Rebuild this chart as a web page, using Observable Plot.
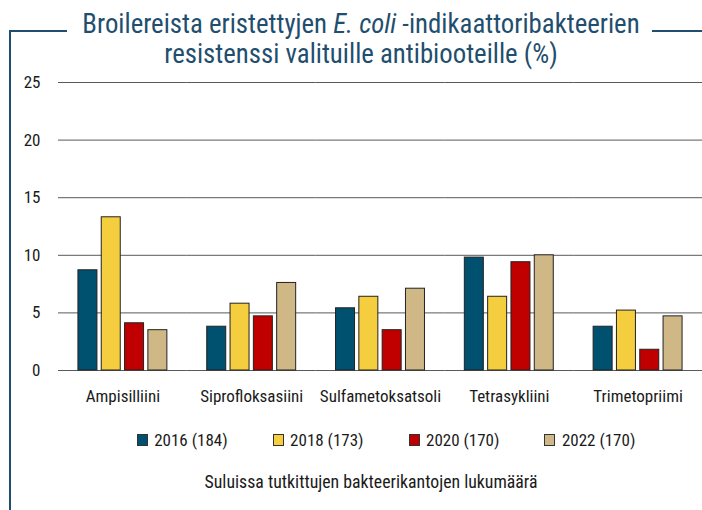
<!DOCTYPE html>
<html>
<head>
<meta charset="utf-8">
<script src="https://cdn.jsdelivr.net/npm/d3@7"></script>
<script src="https://cdn.jsdelivr.net/npm/@observablehq/plot@0.6"></script>
<style>
  html, body { margin: 0; padding: 0; background: #fff; }
  #wrap { position: relative; width: 702px; height: 510px; overflow: hidden;
    font-family: "Roboto Condensed", "Liberation Sans Narrow", "DejaVu Sans Condensed", Roboto, sans-serif; color: #1a1a1a; }
  .frame { position: absolute; background: #1f4e6e; }
  #title { position: absolute; left: 0; width: 722px; top: 8.5px; text-align: center;
    color: #1f4e6e; font-size: 26.8px; line-height: 30px; }
  #chart { position: absolute; left: 0; top: 70px; }
  #legend { position: absolute; left: 64px; width: 644px; top: 430px; display: flex; justify-content: center; gap: 45px; font-size: 17px; line-height: 20px; }
  #legend .item { display: flex; align-items: center; gap: 6.5px; }
  #legend .sw { width: 9px; height: 10px; border: 1px solid #333; }
  #caption { position: absolute; left: 40px; width: 662px; top: 472px; text-align: center; font-size: 17.8px; line-height: 20px; }
</style>
</head>
<body>
<div id="wrap">
  <div class="frame" style="left:8.5px; top:29.5px; width:58.5px; height:2.5px;"></div>
  <div class="frame" style="left:651.5px; top:29.5px; width:51px; height:2.5px;"></div>
  <div class="frame" style="left:8.5px; top:29.5px; width:2.5px; height:481px;"></div>
  <div id="title">Broilereista eristettyjen <i>E. coli</i> -indikaattoribakteerien<br>resistenssi valituille antibiooteille (%)</div>
  <div id="chart"></div>
  <div id="legend"></div>
  <div id="caption">Suluissa tutkittujen bakteerikantojen lukumäärä</div>
</div>
<script>
const antibiotics = ["Ampisilliini", "Siprofloksasiini", "Sulfametoksatsoli", "Tetrasykliini", "Trimetopriimi"];
const years = ["2016 (184)", "2018 (173)", "2020 (170)", "2022 (170)"];
const colors = ["#00506f", "#f5ce3f", "#c00000", "#cfb886"];
const v2016 = [8.7, 3.8, 5.4, 9.8, 3.8];
const v2018 = [13.3, 5.8, 6.4, 6.4, 5.2];
const v2020 = [4.1, 4.7, 3.5, 9.4, 1.8];
const v2022 = [3.5, 7.6, 7.1, 10.0, 4.7];
const yTicks = [0, 5, 10, 15, 20, 25];

const series = [v2016, v2018, v2020, v2022];
const data = [];
antibiotics.forEach((a, i) => years.forEach((y, j) => data.push({antibiotic: a, year: y, value: series[j][i]})));

const width = 702, marginLeft = 58, marginRight = 0;
const fxPad = 0.276;
const step = (width - marginLeft - marginRight) / antibiotics.length;
const ext = -fxPad * step / 2;
const font = "'Roboto Condensed', 'Liberation Sans Narrow', 'DejaVu Sans Condensed', Roboto, sans-serif";

const chart = Plot.plot({
  width, height: 340,
  marginLeft, marginRight, marginTop: 12, marginBottom: 40,
  style: {fontFamily: font, fontSize: "17px", color: "#1a1a1a"},
  fx: {domain: antibiotics, paddingInner: fxPad, paddingOuter: fxPad / 2, round: false, label: null},
  x: {domain: years, paddingInner: 0.185, paddingOuter: 0.0925, round: false, axis: null},
  y: {domain: [0, 25], label: null},
  color: {domain: years, range: colors},
  marks: [
    Plot.ruleY(yTicks, {stroke: "#595959", strokeWidth: 1, insetLeft: ext, insetRight: ext}),
    Plot.barY(data, {fx: "antibiotic", x: "year", y: "value", fill: "year", stroke: "#222", strokeWidth: 1}),
    Plot.axisY({ticks: yTicks, tickSize: 0, tickPadding: 18 - ext, label: null, fontSize: 17}),
    Plot.axisFx({anchor: "bottom", tickSize: 0, tickPadding: 19, label: null, fontSize: 17})
  ]
});
document.getElementById("chart").appendChild(chart);

const legend = document.getElementById("legend");
years.forEach((y, j) => {
  const item = document.createElement("div");
  item.className = "item";
  item.innerHTML = `<span class="sw" style="background:${colors[j]}"></span><span>${y}</span>`;
  legend.appendChild(item);
});
</script>
</body>
</html>
